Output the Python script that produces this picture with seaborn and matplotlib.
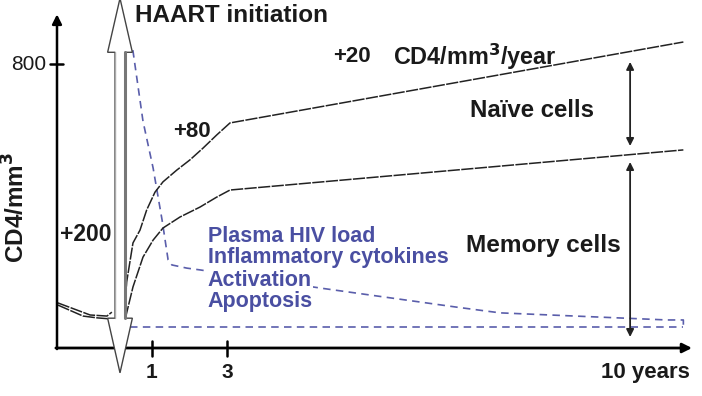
import numpy as np
import pandas as pd
import matplotlib
matplotlib.use("Agg")
import matplotlib.pyplot as plt
import seaborn as sns
from matplotlib.patches import Polygon

sns.set_style("white")
plt.rcParams['font.family'] = ['Liberation Sans', 'DejaVu Sans']

# ---------------- data (schematic; x in years-like units, y in CD4/mm3) ----------------
pre_total_x = [-1.51, -0.65, -0.20, -0.07]
pre_total_y = [127, 93, 90, 101]
pre_memory_x = [-1.51, -0.84, -0.47, -0.12]
pre_memory_y = [121, 90, 85, 82]

total_x = [0.293, 0.325, 0.493, 0.68, 0.859, 1.08, 1.293, 1.659, 2.013, 2.36, 2.725, 3.08, 15.17]
total_y = [135, 186, 296, 332, 389, 439, 468, 501, 530, 563, 600, 634, 862]

memory_x = [0.293, 0.325, 0.493, 0.76, 1.03, 1.293, 1.747, 2.28, 2.725, 3.08, 15.17]
memory_y = [85, 99, 172, 256, 304, 338, 369, 397, 425, 445, 558]

viral_x = [0.49, 0.76, 1.03, 1.27, 1.35, 1.43, 1.53, 1.93, 2.28, 5.48, 9.13, 10.28, 14.73, 15.17, 15.17]
viral_y = [839, 639, 507, 360, 304, 248, 234, 225, 220, 169, 115, 99, 79, 79, 59]

baseline_x = [0.41, 15.17]
baseline_y = [59, 59]

haart_x = 0.147
ytick_value = 800
xtick_values = [1, 3]
xtick_labels = ["1", "3"]
xend_label = "10 years"
blue_labels = ["Plasma HIV load", "Inflammatory cytokines", "Activation", "Apoptosis"]

BLUE_LINE = "#5a5eab"
BLUE_TEXT = "#4a4fa2"

fig = plt.figure(figsize=(7.02, 3.96), dpi=100)
ax = fig.add_axes([0, 0, 1, 1])
ax.set_xlim(-3.053, 15.667)
ax.set_ylim(-135.2, 980.3)
ax.axis("off")

black_dash = (0, (8, 0.9))
for xs, ys in [(pre_total_x, pre_total_y), (pre_memory_x, pre_memory_y),
               (total_x, total_y), (memory_x, memory_y)]:
    df = pd.DataFrame({"x": xs, "y": ys})
    sns.lineplot(data=df, x="x", y="y", ax=ax, color="#222222", lw=1.1,
                 linestyle=black_dash, estimator=None, sort=False, zorder=3)

blue_dash = (0, (4.5, 3.2))
for xs, ys in [(viral_x, viral_y), (baseline_x, baseline_y)]:
    df = pd.DataFrame({"x": xs, "y": ys})
    sns.lineplot(data=df, x="x", y="y", ax=ax, color=BLUE_LINE, lw=1.2,
                 linestyle=blue_dash, estimator=None, sort=False, zorder=2)

# axes with arrows
x0 = -1.533
ax.annotate("", xy=(15.40, 0), xytext=(x0 - 0.03, 0),
            arrowprops=dict(arrowstyle="-|>", lw=2, color="black", mutation_scale=14,
                            shrinkA=0, shrinkB=0), zorder=4)
ax.annotate("", xy=(x0, 940), xytext=(x0, -3),
            arrowprops=dict(arrowstyle="-|>", lw=1.8, color="black", mutation_scale=14,
                            shrinkA=0, shrinkB=0), zorder=4)
for xv in xtick_values:
    ax.plot([xv, xv], [-22, 20], color="black", lw=1.8, zorder=4)
ax.plot([-1.72, -1.37], [ytick_value, ytick_value], color="black", lw=1.8, zorder=4)

# HAART double arrow (hollow)
sw, hw = 0.133, 0.33
top_base, top_apex = 833, 985
bot_base, bot_apex = 84, -70
poly = [(haart_x, top_apex), (haart_x + hw, top_base), (haart_x + sw, top_base),
        (haart_x + sw, bot_base), (haart_x + hw, bot_base), (haart_x, bot_apex),
        (haart_x - hw, bot_base), (haart_x - sw, bot_base), (haart_x - sw, top_base),
        (haart_x - hw, top_base)]
ax.add_patch(Polygon(poly, closed=True, facecolor="white", edgecolor="#444444",
                     lw=1.0, zorder=5))
ax.plot([haart_x + sw, haart_x + sw], [bot_base, top_base], color="#777777", lw=2.2, zorder=6)
ax.plot([haart_x - sw, haart_x - sw], [bot_base, top_base], color="#aaaaaa", lw=1.0, zorder=6)

# double arrows at right
ax.annotate("", xy=(13.75, 806), xytext=(13.75, 569),
            arrowprops=dict(arrowstyle="<|-|>", lw=1.3, color="#222222", mutation_scale=11,
                            shrinkA=0, shrinkB=0), zorder=4)
ax.annotate("", xy=(13.75, 524), xytext=(13.75, 31),
            arrowprops=dict(arrowstyle="<|-|>", lw=1.3, color="#222222", mutation_scale=11,
                            shrinkA=0, shrinkB=0), zorder=4)

# texts
tk = dict(color="#1a1a1a", fontweight="bold")
ax.text(0.55, 938, "HAART initiation", fontsize=17.5, ha="left", va="center", **tk)
ax.text(5.83, 820, "+20", fontsize=16, ha="left", va="center", **tk)
ax.text(7.43, 820, "CD4/mm$^{\\mathbf{3}}$/year", fontsize=16.8, ha="left", va="center", **tk)
ax.text(1.56, 611, "+80", fontsize=16, ha="left", va="center", **tk)
ax.text(-1.45, 321, "+200", fontsize=16.5, ha="left", va="center", **tk)
ax.text(9.48, 670, "Naïve cells", fontsize=17.3, ha="left", va="center", **tk)
ax.text(9.37, 290, "Memory cells", fontsize=17.6, ha="left", va="center", **tk)
ax.text(-1.83, 800, str(ytick_value), fontsize=15, ha="right", va="center", color="#1a1a1a")
ax.text(-2.62, 396, "CD4/mm$^{\\mathbf{3}}$", fontsize=17.5, ha="center", va="center",
        rotation=90, **tk)
for xv, lab in zip(xtick_values, xtick_labels):
    ax.text(xv, -68, lab, fontsize=15, ha="center", va="center", **tk)
ax.text(15.35, -68, xend_label, fontsize=16, ha="right", va="center", **tk)

for lab, yv in zip(blue_labels, [315, 256, 191.5, 129.6]):
    ax.text(2.49, yv, lab, fontsize=15.5, ha="left", va="center", color=BLUE_TEXT,
            fontweight="bold", zorder=7,
            bbox=dict(facecolor="white", edgecolor="none", pad=1.0))

fig.savefig("out.png", dpi=100)
